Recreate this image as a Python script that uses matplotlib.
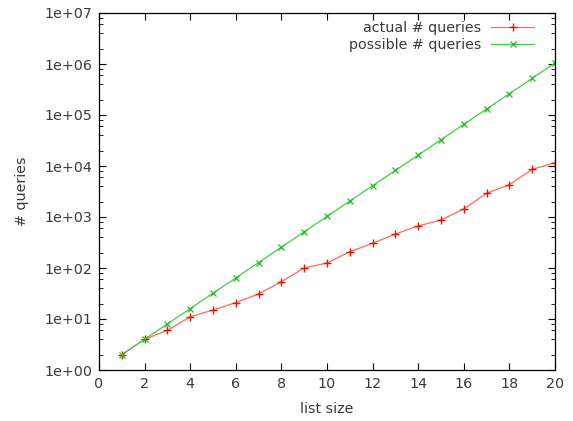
import matplotlib
matplotlib.use("Agg")
import matplotlib.pyplot as plt
from matplotlib.ticker import LogLocator, FixedLocator, NullFormatter, FuncFormatter
import numpy as np

# list sizes and query counts
list_size = list(range(1, 21))
actual_queries = [2, 4, 6, 11, 15, 21, 31, 54, 100, 125, 209, 305, 465, 668,
                  875, 1436, 2917, 4290, 8610, 11600]
possible_queries = [2 ** n for n in list_size]

plt.rcParams['font.family'] = ['DejaVu Sans']
fs = 10.3

fig = plt.figure(figsize=(5.73, 4.21), dpi=100)
ax = fig.add_axes([99 / 573, 1 - 370 / 421, (555 - 99) / 573, (370 - 13) / 421])

ax.plot(list_size, actual_queries, color='#ff6a5a', lw=0.9, marker='+',
        ms=5.5, mec='#ee1100', mew=1.0, label='actual # queries')
ax.plot(list_size, possible_queries, color='#44cc44', lw=0.9, marker='x',
        ms=4.5, mec='#22bb22', mew=0.9, label='possible # queries')

ax.set_yscale('log')
ax.set_xlim(0, 20)
ax.set_ylim(1, 1e7)
ax.xaxis.set_major_locator(FixedLocator(np.arange(0, 21, 2)))
ax.yaxis.set_major_locator(LogLocator(base=10, numticks=10))
ax.yaxis.set_minor_locator(LogLocator(base=10, subs=(2, 4, 6, 8), numticks=10))
ax.yaxis.set_minor_formatter(NullFormatter())
ax.yaxis.set_major_formatter(FuncFormatter(lambda v, p: '1e+%02d' % round(np.log10(v))))

ax.tick_params(which='both', direction='in', top=True, right=True,
               colors='black', labelcolor='#3a3a3a', labelsize=fs)
ax.tick_params(which='major', length=5, width=0.8, pad=5)
ax.tick_params(which='minor', length=3, width=0.6)
for s in ax.spines.values():
    s.set_linewidth(0.9)

ax.set_xlabel('list size', color='#3a3a3a', fontsize=fs, labelpad=8)
ax.set_ylabel('# queries', color='#3a3a3a', fontsize=fs, labelpad=11)

leg = ax.legend(loc='upper right', bbox_to_anchor=(0.954, 0.977), frameon=False,
                markerfirst=False, handlelength=3.0, fontsize=fs,
                borderaxespad=0, borderpad=0, labelspacing=0.2,
                handletextpad=0.7)
for t in leg.get_texts():
    t.set_color('#3a3a3a')

fig.savefig('out.png', dpi=100)
